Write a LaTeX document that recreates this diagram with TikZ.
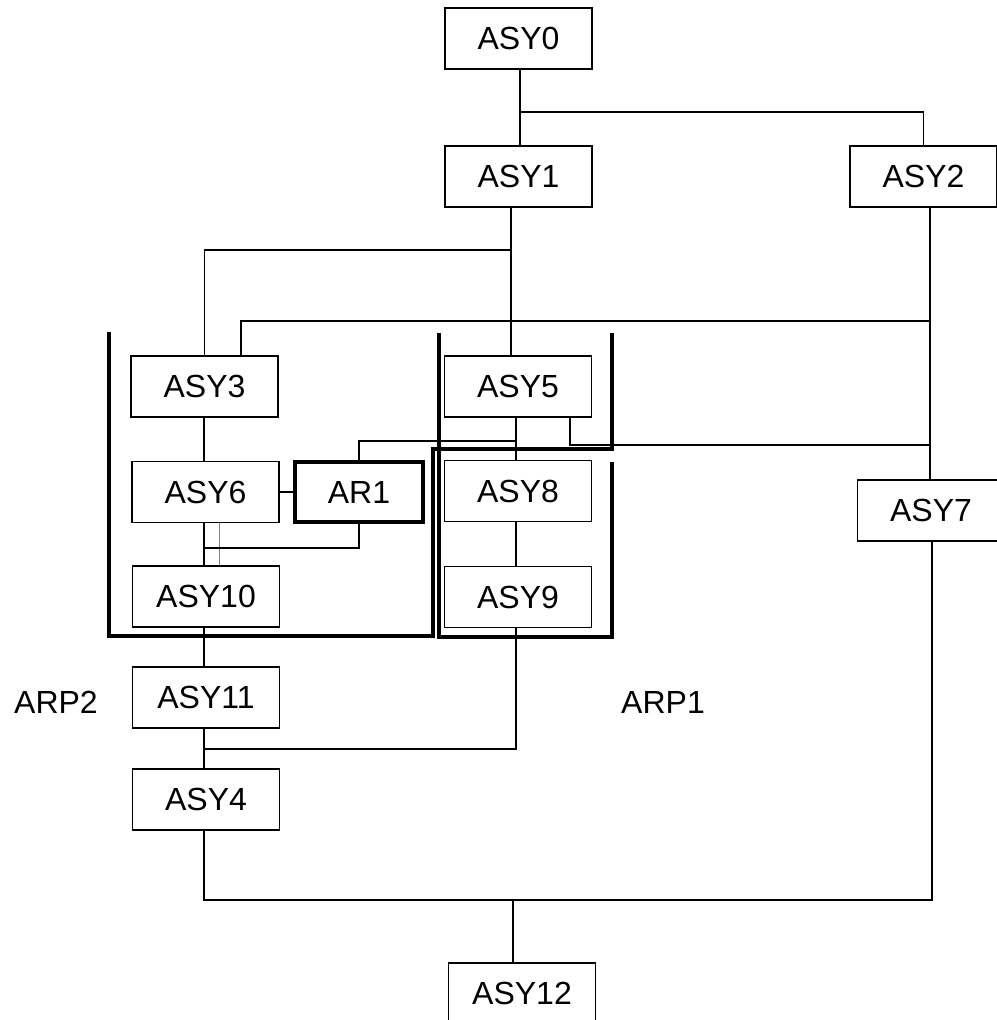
\documentclass[tikz,border=0pt]{standalone}
\usepackage{fontspec}
\setmainfont{Liberation Sans}
\usetikzlibrary{calc}
\begin{document}
\begin{tikzpicture}[x=1pt,y=-1pt,
  box/.style={draw=black,line width=1.3pt,minimum width=147pt,minimum height=61pt,inner sep=0pt,font=\fontsize{32}{38}\selectfont,fill=white},
  thickbox/.style={box,line width=4pt,minimum width=128pt,minimum height=60pt},
  wire/.style={line width=1.5pt},
  thinwire/.style={line width=1pt,gray},
  frame/.style={line width=4.5pt},
  lbl/.style={font=\fontsize{32}{38}\selectfont,inner sep=0pt}]
\fill[white] (0,0) rectangle (996,1020);
\useasboundingbox (0,0) rectangle (996,1020);

% nodes
\node[box] (asy0) at (518.5,38.5) {ASY0};
\node[box] (asy1) at (518.5,176.5) {ASY1};
\node[box] (asy2) at (923.5,176.5) {ASY2};
\node[box] (asy3) at (204.5,386.5) {ASY3};
\node[box] (asy5) at (518,386.5) {ASY5};
\node[box] (asy6) at (205.5,492) {ASY6};
\node[thickbox] (ar1) at (359,492) {AR1};
\node[box] (asy8) at (518,491) {ASY8};
\node[box] (asy7) at (931,510.5) {ASY7};
\node[box] (asy10) at (206,596.5) {ASY10};
\node[box] (asy9) at (518,597) {ASY9};
\node[box] (asy11) at (206,697.5) {ASY11};
\node[box] (asy4) at (206,799.5) {ASY4};
\node[box] (asy12) at (522,993.5) {ASY12};
\node[lbl] (arp2) at (56,702) {ARP2};
\node[lbl] (arp1) at (663,702) {ARP1};

% junctions
\coordinate (j0) at (520,112);
\coordinate (j1) at (511,250);
\coordinate (j2) at (930,321);
\coordinate (k3) at (241,321);
\coordinate (k5) at (570,445);
\coordinate (k58) at (516,441);
\coordinate (k10) at (204,548);
\coordinate (g6) at (219,548);
\coordinate (k11) at (204,749);
\coordinate (k4) at (204,900);
\coordinate (k12) at (513,900);
\coordinate (k7) at (932,900);

% connectors
\draw[wire] (asy0.south -| j0) -- (asy1.north -| j0);
\draw[wire] (j0) -| (asy2.north);
\draw[wire] (asy1.south -| j1) -- (asy5.north -| j1);
\draw[wire] (j1) -| (asy3.north);
\draw[wire] (asy2.south -| j2) -- (asy7.north -| j2);
\draw[wire] (j2) -- (k3) -- (k3 |- asy3.north);
\draw[wire] (asy5.south -| k5) -- (k5) -- (k5 -| j2);
\draw[wire] (asy5.south -| k58) -- (asy8.north -| k58);
\draw[wire] (ar1.north) |- (k58);
\draw[wire] (asy3.south -| k10) -- (asy6.north -| k10);
\draw[wire] (asy6.east) -- (asy6.east -| ar1.west);
\draw[wire] (asy6.south -| k10) -- (asy10.north -| k10);
\draw[thinwire] (asy6.south -| g6) -- (asy10.north -| g6);
\draw[wire] (ar1.south) |- (k10);
\draw[wire] (asy10.south -| k10) -- (asy11.north -| k10);
\draw[wire] (asy11.south -| k10) -- (asy4.north -| k10);
\draw[wire] (k11) -- (k11 -| k58) -- (asy9.south -| k58);
\draw[wire] (asy8.south -| k58) -- (asy9.north -| k58);
\draw[wire] (asy4.south -| k4) -- (k4) -- (k7) -- (asy7.south -| k7);
\draw[wire] (k12) -- (asy12.north -| k12);

% group frames
\draw[frame] (109,332) -- (109,636) -- (433,636) -- (433,449) -- (612,449) -- (612,333);
\draw[frame] (439,333) -- (439,637) -- (612,637) -- (612,462);
\end{tikzpicture}
\end{document}
